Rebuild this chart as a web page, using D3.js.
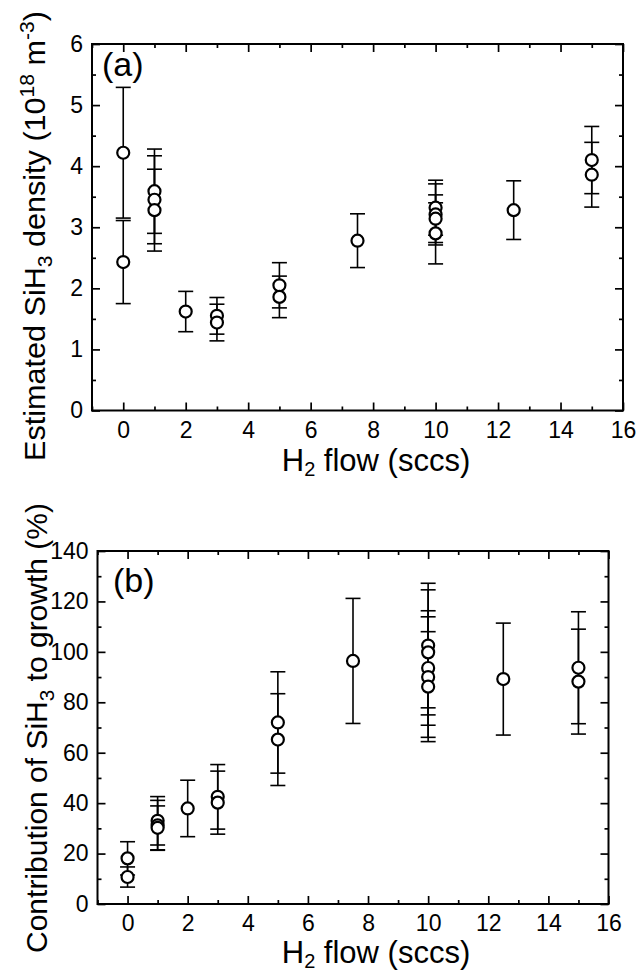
<!DOCTYPE html>
<html>
<head>
<meta charset="utf-8">
<script src="https://cdn.jsdelivr.net/npm/d3@7"></script>
<style>
  body { margin: 0; background: #fff; }
  svg text { font-family: "Liberation Sans", Arial, sans-serif; fill: #000; }
</style>
</head>
<body>
<svg id="chart" width="644" height="973"></svg>
<script>
// panel (a): estimated SiH3 density (10^18 m^-3)
var aFlow    = [0, 0, 1, 1, 1, 2, 3, 3, 5, 5, 7.5, 10, 10, 10, 10, 12.5, 15, 15];
var aDensity = [4.22, 2.43, 3.59, 3.45, 3.28, 1.62, 1.55, 1.44, 2.05, 1.86, 2.78, 3.32, 3.21, 3.14, 2.90, 3.28, 4.10, 3.86];
var aErr     = [1.07, 0.68, 0.69, 0.72, 0.67, 0.33, 0.30, 0.30, 0.37, 0.34, 0.44, 0.45, 0.50, 0.39, 0.50, 0.48, 0.55, 0.53];

// panel (b): contribution of SiH3 to growth (%)
var bFlow   = [0, 0, 1, 1, 1, 2, 3, 3, 5, 5, 7.5, 10, 10, 10, 10, 10, 12.5, 15, 15];
var bContr  = [18.1, 10.7, 33.0, 31.2, 30.2, 37.9, 42.5, 40.2, 72.0, 65.2, 96.4, 102.5, 99.8, 93.6, 90.0, 86.2, 89.2, 93.7, 88.2];
var bErr    = [6.6, 4.0, 9.6, 9.9, 8.7, 11.2, 12.8, 12.5, 20.1, 18.2, 24.8, 24.7, 24.8, 22.7, 23.9, 21.8, 22.2, 22.2, 20.8];

// ticks
var xTicks      = [0, 2, 4, 6, 8, 10, 12, 14, 16];
var xMinorTicks = [-1, 1, 3, 5, 7, 9, 11, 13, 15];
var aYTicks      = [0, 1, 2, 3, 4, 5, 6];
var aYMinorTicks = [0.5, 1.5, 2.5, 3.5, 4.5, 5.5];
var bYTicks      = [0, 20, 40, 60, 80, 100, 120, 140];
var bYMinorTicks = [10, 30, 50, 70, 90, 110, 130];

var svg = d3.select('#chart');

function styleAxis(g) {
  g.select('.domain').remove();
  g.selectAll('line').attr('stroke', '#000').attr('stroke-width', 1.7);
  g.attr('font-size', 23).attr('font-family', '"Liberation Sans", Arial, sans-serif');
}

function drawPanel(p) {
  var x = d3.scaleLinear().domain([-1, 16]).range([p.left, p.right]);
  var y = d3.scaleLinear().domain(p.yDomain).range([p.bottom, p.top]);
  var g = svg.append('g');

  // bottom / top
  g.append('g').attr('transform', `translate(0,${p.bottom})`)
    .call(d3.axisBottom(x).tickValues(xTicks).tickSize(-8).tickPadding(11).tickFormat(d3.format('d')))
    .call(styleAxis);
  g.append('g').attr('transform', `translate(0,${p.bottom})`)
    .call(d3.axisBottom(x).tickValues(xMinorTicks).tickSize(-4).tickFormat(''))
    .call(styleAxis);
  g.append('g').attr('transform', `translate(0,${p.top})`)
    .call(d3.axisTop(x).tickValues(xTicks).tickSize(-8).tickFormat(''))
    .call(styleAxis);
  g.append('g').attr('transform', `translate(0,${p.top})`)
    .call(d3.axisTop(x).tickValues(xMinorTicks).tickSize(-4).tickFormat(''))
    .call(styleAxis);

  // left / right
  g.append('g').attr('transform', `translate(${p.left},0)`)
    .call(d3.axisLeft(y).tickValues(p.yTicks).tickSize(-8).tickPadding(9).tickFormat(d3.format('d')))
    .call(styleAxis);
  g.append('g').attr('transform', `translate(${p.left},0)`)
    .call(d3.axisLeft(y).tickValues(p.yMinor).tickSize(-4).tickFormat(''))
    .call(styleAxis);
  g.append('g').attr('transform', `translate(${p.right},0)`)
    .call(d3.axisRight(y).tickValues(p.yTicks).tickSize(-8).tickFormat(''))
    .call(styleAxis);
  g.append('g').attr('transform', `translate(${p.right},0)`)
    .call(d3.axisRight(y).tickValues(p.yMinor).tickSize(-4).tickFormat(''))
    .call(styleAxis);

  // frame
  g.append('rect')
    .attr('x', p.left).attr('y', p.top)
    .attr('width', p.right - p.left).attr('height', p.bottom - p.top)
    .attr('fill', 'none').attr('stroke', '#000').attr('stroke-width', 2);

  var idx = d3.range(p.xs.length);
  var cap = 7.5;

  // error bars
  var eb = g.append('g').attr('stroke', '#000').attr('stroke-width', 1.6);
  eb.selectAll('line.v').data(idx).enter().append('line')
    .attr('x1', i => x(p.xs[i])).attr('x2', i => x(p.xs[i]))
    .attr('y1', i => y(p.ys[i] - p.err[i])).attr('y2', i => y(p.ys[i] + p.err[i]));
  eb.selectAll('line.hi').data(idx).enter().append('line')
    .attr('x1', i => x(p.xs[i]) - cap).attr('x2', i => x(p.xs[i]) + cap)
    .attr('y1', i => y(p.ys[i] + p.err[i])).attr('y2', i => y(p.ys[i] + p.err[i]));
  eb.selectAll('line.lo').data(idx).enter().append('line')
    .attr('x1', i => x(p.xs[i]) - cap).attr('x2', i => x(p.xs[i]) + cap)
    .attr('y1', i => y(p.ys[i] - p.err[i])).attr('y2', i => y(p.ys[i] - p.err[i]));

  // markers
  g.append('g').selectAll('circle').data(idx).enter().append('circle')
    .attr('cx', i => x(p.xs[i])).attr('cy', i => y(p.ys[i]))
    .attr('r', 6).attr('fill', '#fff').attr('stroke', '#000').attr('stroke-width', 2.2);

  // panel label
  g.append('text').attr('x', p.labelX).attr('y', p.labelY)
    .attr('font-size', 34).text(p.panel);

  // x title
  var xt = g.append('text').attr('x', p.xTitleX).attr('y', p.xTitleY)
    .attr('text-anchor', 'middle').attr('font-size', 31);
  xt.append('tspan').text('H');
  xt.append('tspan').attr('font-size', 20).attr('dy', 5).text('2');
  xt.append('tspan').attr('dy', -5).text(' flow (sccs)');

  // y title, stretched along its length to the reference span
  var yt = g.append('text')
    .attr('text-anchor', 'middle').attr('font-size', 29);
  p.yTitle(yt);
  var len = yt.node().getComputedTextLength();
  yt.attr('transform', `translate(${p.yTitleX},${p.yTitleY}) rotate(-90) scale(${p.yTitleLen / len},1)`);
}

drawPanel({
  left: 92, right: 623, top: 44, bottom: 410.5,
  yDomain: [0, 6], yTicks: aYTicks, yMinor: aYMinorTicks,
  xs: aFlow, ys: aDensity, err: aErr,
  panel: '(a)', labelX: 102, labelY: 76,
  xTitleX: 376, xTitleY: 471,
  yTitleX: 45, yTitleY: 236, yTitleLen: 450,
  yTitle: function(t) {
    t.append('tspan').text('Estimated SiH');
    t.append('tspan').attr('font-size', 20).attr('dy', 7).text('3');
    t.append('tspan').attr('dy', -7).text(' density (10');
    t.append('tspan').attr('font-size', 20).attr('dy', -11).text('18');
    t.append('tspan').attr('dy', 11).text(' m');
    t.append('tspan').attr('font-size', 20).attr('dy', -11).text('-3');
    t.append('tspan').attr('dy', 11).text(')');
  }
});

drawPanel({
  left: 97.5, right: 608.5, top: 551, bottom: 904,
  yDomain: [0, 140], yTicks: bYTicks, yMinor: bYMinorTicks,
  xs: bFlow, ys: bContr, err: bErr,
  panel: '(b)', labelX: 113, labelY: 592,
  xTitleX: 376, xTitleY: 963,
  yTitleX: 47, yTitleY: 728, yTitleLen: 450,
  yTitle: function(t) {
    t.append('tspan').text('Contribution of SiH');
    t.append('tspan').attr('font-size', 20).attr('dy', 7).text('3');
    t.append('tspan').attr('dy', -7).text(' to growth (%)');
  }
});
</script>
</body>
</html>
